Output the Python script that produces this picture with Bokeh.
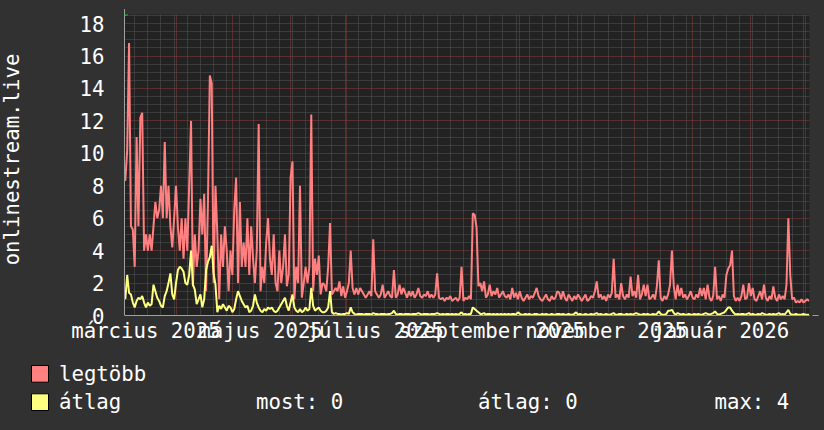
import math
import datetime as dt
from bokeh.plotting import figure
from bokeh.models import Range1d, FixedTicker, Arrow, NormalHead
from bokeh.layouts import column, row
from bokeh.embed import file_html
from bokeh.resources import INLINE
from bokeh.core.properties import value

# ---------------- data (daily values, first day = 2025-03-05) ----------------
start_date = dt.date(2025, 3, 5)

legtobb = [
    8.3, 10.2, 16.8, 5.5, 5.3, 3.0, 11.0, 5.5, 12.2, 12.5,
    4.0, 5.0, 4.0, 5.0, 4.0, 5.5, 7.0, 6.0, 6.5, 8.0,
    6.0, 10.7, 6.0, 8.0, 5.5, 4.2, 6.0, 8.0, 5.5, 4.0,
    6.0, 3.5, 6.0, 4.0, 8.0, 12.0, 1.8, 5.0, 3.0, 4.0,
    7.2, 5.0, 7.5, 1.5, 7.0, 14.8, 14.3, 2.0, 8.0, 5.0,
    1.0, 5.0, 3.0, 5.5, 4.0, 1.5, 4.0, 2.5, 6.5, 8.5,
    2.0, 7.0, 3.0, 4.5, 3.0, 6.0, 2.5, 5.5, 3.5, 2.0,
    4.0, 11.8, 1.5, 3.0, 2.0, 4.5, 6.0, 3.5, 2.5, 5.0,
    2.0, 1.5, 4.0, 2.0, 3.0, 5.0, 1.8, 2.5, 8.5, 9.5,
    1.0, 3.0, 2.0, 8.0, 1.1, 2.0, 3.0, 2.0, 3.0, 12.4,
    1.5, 3.5, 2.5, 3.7, 1.3, 2.0, 1.9, 1.5, 3.0, 5.7,
    1.3, 1.5, 1.7, 1.5, 2.1, 1.2, 1.8, 1.1, 1.5, 2.0,
    4.0, 1.7, 1.3, 1.7, 1.3, 1.7, 1.5, 1.3, 1.1, 1.3,
    1.5, 1.2, 4.7, 1.5, 1.3, 1.1, 1.3, 1.9, 1.1, 1.3,
    1.5, 1.2, 1.1, 2.8, 1.1, 1.3, 1.9, 1.3, 1.7, 1.4,
    1.1, 1.5, 1.2, 1.5, 1.1, 1.3, 1.7, 1.2, 1.1, 1.3,
    1.2, 1.5, 1.1, 1.3, 1.1, 1.3, 2.6, 1.1, 1.0, 1.1,
    0.9, 1.1, 1.0, 1.2, 0.9, 1.0, 1.1, 0.9, 1.1, 3.0,
    0.9, 1.1, 1.0, 1.2, 1.0, 6.3, 6.2, 5.4, 1.8, 2.0,
    1.5, 2.1, 1.1, 1.3, 1.9, 1.2, 1.5, 1.3, 1.7, 1.1,
    1.3, 1.5, 1.2, 1.1, 1.3, 1.0, 1.7, 1.1, 1.4, 1.0,
    1.5, 1.1, 0.9, 1.1, 1.3, 1.0, 1.2, 1.1, 1.4, 1.7,
    1.2, 1.0, 0.9, 1.1, 1.3, 1.0, 0.9, 1.2, 1.0, 1.1,
    1.5, 1.4, 1.0, 1.5, 1.1, 0.9, 1.3, 1.1, 0.9, 1.2,
    1.0, 1.3, 1.1, 0.9, 1.1, 1.3, 0.9, 1.0, 1.2, 1.1,
    1.5, 2.1, 1.1, 1.3, 1.0, 1.2, 0.9, 1.3, 1.1, 1.4,
    3.5, 1.1, 1.3, 1.0, 2.0, 1.2, 1.0, 1.3, 1.1, 2.4,
    1.2, 1.5, 1.1, 2.5, 1.0, 1.3, 1.9, 1.2, 1.9, 1.0,
    1.1, 1.3, 1.0, 1.8, 3.4, 1.1, 0.9, 1.2, 1.0, 1.3,
    1.9, 4.0, 1.8, 1.0, 1.9, 1.2, 1.7, 1.1, 1.3, 1.0,
    1.2, 1.5, 1.1, 1.0, 1.3, 1.1, 1.7, 1.2, 1.7, 1.0,
    1.9, 1.1, 0.9, 1.2, 3.0, 1.0, 1.2, 0.9, 1.3, 1.1,
    2.5, 2.9, 3.1, 4.0, 1.2, 0.9, 1.1, 0.9, 1.2, 1.9,
    1.0, 1.1, 2.0, 1.2, 1.7, 1.0, 0.9, 1.2, 1.5, 1.0,
    1.9, 1.1, 0.9, 1.2, 1.0, 1.8, 1.1, 0.9, 1.3, 1.0,
    1.2, 1.0, 1.9, 6.0, 2.5, 1.0, 1.1, 0.8, 0.9, 0.8,
    1.0, 0.8, 0.9, 1.0, 0.9,
]

atlag = [
    1.0, 2.5, 1.4, 1.3, 0.8, 0.5, 0.9, 1.1, 1.0, 1.2,
    0.8, 0.5, 0.8, 0.6, 0.7, 1.9, 1.5, 1.1, 0.9, 0.6,
    0.5, 1.2, 1.5, 2.0, 2.6, 1.3, 1.0, 2.0, 2.8, 3.0,
    2.9, 2.7, 2.0, 1.9, 2.5, 4.0, 1.9, 1.6, 0.7, 1.0,
    1.3, 0.5, 1.0, 2.8, 3.3, 3.6, 4.3, 2.6, 1.9, 0.2,
    0.6, 0.4, 0.7, 0.5, 0.3, 0.6, 0.5, 0.2, 0.4, 1.0,
    1.5, 1.2, 0.9, 0.7, 0.5, 0.6, 0.2, 0.3, 0.6, 1.3,
    0.8, 0.5, 0.3, 0.2, 0.4, 0.3, 0.5, 0.4, 0.5, 0.3,
    0.2, 0.3, 0.5, 0.7, 0.9, 1.1, 0.6, 0.3, 0.8, 1.3,
    0.5, 0.3, 0.2, 0.4, 0.2, 0.3, 0.5, 0.3, 0.4, 1.7,
    0.6, 0.3, 0.4, 0.5, 0.3, 0.2, 0.2, 0.3, 0.5, 1.5,
    0.2, 0.1, 0.15, 0.1, 0.1, 0.05, 0.1, 0.1, 0.15, 0.1,
    0.5, 0.2, 0.1, 0.05, 0.1, 0.1, 0.1, 0.05, 0.1, 0.1,
    0.1, 0.05, 0.15, 0.1, 0.1, 0.05, 0.1, 0.1, 0.1, 0.05,
    0.1, 0.1, 0.15, 0.3, 0.1, 0.05, 0.1, 0.1, 0.05, 0.1,
    0.1, 0.1, 0.05, 0.1, 0.1, 0.1, 0.15, 0.1, 0.05, 0.1,
    0.1, 0.1, 0.05, 0.1, 0.1, 0.1, 0.15, 0.1, 0.05, 0.1,
    0.05, 0.1, 0.1, 0.05, 0.1, 0.05, 0.1, 0.05, 0.1, 0.2,
    0.05, 0.1, 0.05, 0.1, 0.1, 0.5, 0.4, 0.3, 0.2, 0.1,
    0.1, 0.15, 0.05, 0.1, 0.1, 0.05, 0.1, 0.05, 0.1, 0.05,
    0.1, 0.05, 0.1, 0.05, 0.1, 0.05, 0.1, 0.1, 0.05, 0.2,
    0.1, 0.05, 0.05, 0.1, 0.05, 0.1, 0.05, 0.05, 0.1, 0.1,
    0.05, 0.05, 0.1, 0.05, 0.1, 0.05, 0.05, 0.1, 0.05, 0.05,
    0.1, 0.1, 0.05, 0.1, 0.05, 0.05, 0.1, 0.05, 0.05, 0.1,
    0.2, 0.05, 0.1, 0.05, 0.05, 0.1, 0.05, 0.05, 0.1, 0.05,
    0.1, 0.15, 0.05, 0.1, 0.05, 0.05, 0.1, 0.05, 0.05, 0.1,
    0.15, 0.05, 0.05, 0.1, 0.1, 0.05, 0.05, 0.1, 0.05, 0.1,
    0.05, 0.1, 0.15, 0.1, 0.05, 0.05, 0.1, 0.05, 0.1, 0.05,
    0.05, 0.1, 0.05, 0.1, 0.25, 0.1, 0.05, 0.05, 0.1, 0.3,
    0.3, 0.35, 0.15, 0.05, 0.15, 0.1, 0.05, 0.1, 0.05, 0.05,
    0.1, 0.05, 0.05, 0.1, 0.05, 0.1, 0.05, 0.05, 0.1, 0.15,
    0.1, 0.05, 0.1, 0.15, 0.25, 0.1, 0.05, 0.1, 0.15, 0.2,
    0.35, 0.5, 0.5, 0.3, 0.15, 0.05, 0.1, 0.05, 0.1, 0.1,
    0.05, 0.1, 0.15, 0.05, 0.1, 0.05, 0.05, 0.1, 0.05, 0.15,
    0.1, 0.05, 0.05, 0.1, 0.05, 0.1, 0.05, 0.1, 0.15, 0.05,
    0.1, 0.05, 0.2, 0.35, 0.1, 0.05, 0.05, 0.1, 0.05, 0.05,
    0.05, 0.1, 0.05, 0.05, 0.05,
]

# x-axis labels (month, label text)
label_months = [(2025, 3), (2025, 5), (2025, 7), (2025, 9), (2025, 11), (2026, 1)]
label_texts = ["március 2025", "május 2025", "július 2025",
               "szeptember 2025", "november 2025", "január 2026"]
grid_months = [(2025, m) for m in range(4, 13)] + [(2026, 1), (2026, 2), (2026, 3)]

y_major = [0, 2, 4, 6, 8, 10, 12, 14, 16, 18]
y_title = "onlinestream.live"
legend_names = ["legtöbb", "átlag"]
stat_texts = ["most: 0", "átlag: 0", "max: 4"]

series_colors = ["#ff8080", "#ffff80"]
BACK = "#313131"
CANVAS = "#222222"
FONT = "DejaVu Sans Mono"
FS = "20.7px"
TITLE_W = 30

# ---------------- derived positions ----------------
days = list(range(len(legtobb)))
ndays = len(legtobb)


def day_of(y, m, d=1):
    return (dt.date(y, m, d) - start_date).days


month_pos = [day_of(y, m) for (y, m) in grid_months]
label_pos = [day_of(y, m) + 15 for (y, m) in label_months]
week_pos = [d for d in range(0, ndays)
            if (start_date + dt.timedelta(days=d)).weekday() == 0 and d not in month_pos]
y_minor = [k * 0.5 for k in range(0, 38) if (k * 0.5) % 2 != 0]

x0, x1 = -0.43, 364.25
y0, y1 = 0.0, 18.56

common = dict(output_backend="svg", toolbar_location=None)

# ---------------- main plot ----------------
p = figure(width=824 - TITLE_W, height=345, x_range=Range1d(x0, x1), y_range=Range1d(y0, y1),
           min_border_left=124 - TITLE_W, min_border_right=15, min_border_top=14,
           min_border_bottom=30, background_fill_color=CANVAS, border_fill_color=BACK,
           outline_line_color=None, **common)

p.xaxis.ticker = FixedTicker(ticks=label_pos, minor_ticks=[])
p.xaxis.major_label_overrides = {pos: t for pos, t in zip(label_pos, label_texts)}
p.yaxis.ticker = FixedTicker(ticks=y_major, minor_ticks=y_minor)

p.xgrid.ticker = FixedTicker(ticks=month_pos, minor_ticks=week_pos)
for g in (p.xgrid, p.ygrid):
    g.grid_line_color = "#8a3c3c"
    g.grid_line_dash = "1 1"
    g.minor_grid_line_color = "#555555"
    g.minor_grid_line_dash = "1 1"

p.axis.axis_line_color = "#a0a0a0"
p.axis.major_tick_line_color = None
p.axis.minor_tick_line_color = None
p.axis.major_tick_out = 0
p.axis.major_tick_in = 0
p.axis.major_label_text_font = FONT
p.axis.major_label_text_font_size = FS
p.axis.major_label_text_color = "white"
p.xaxis.major_label_standoff = 3
p.yaxis.major_label_standoff = 16

p.line(days, legtobb, line_color=series_colors[0], line_width=2)
p.line(days, atlag, line_color=series_colors[1], line_width=2)

green = "#00cc00"
p.add_layout(Arrow(end=NormalHead(size=6, fill_color=green, line_color=green),
                   x_start=x0, y_start=y1 - 0.2, x_end=x0, y_end=y1 + 0.33,
                   line_color="#a0a0a0", line_width=1))
p.add_layout(Arrow(end=NormalHead(size=6, fill_color=green, line_color=green),
                   x_start=x1 - 1, y_start=0, x_end=x1 + 4.8, y_end=0,
                   line_color="#a0a0a0", line_width=1))

# ---------------- y title strip (left) ----------------
pt = figure(width=TITLE_W, height=345, x_range=Range1d(0, TITLE_W), y_range=Range1d(345, 0),
            min_border=0, x_axis_location=None, y_axis_location=None,
            background_fill_color=BACK, border_fill_color=BACK, outline_line_color=None, **common)
pt.title = None
pt.grid.visible = False
pt.text(x=[11.7], y=[159], text=[y_title], angle=math.pi / 2,
        text_font=value(FONT), text_font_size=value(FS), text_color="white",
        text_baseline="middle", text_align="center")

# ---------------- legend panel ----------------
p2 = figure(width=824, height=85, x_range=Range1d(0, 824), y_range=Range1d(430, 345),
            min_border=0, x_axis_location=None, y_axis_location=None,
            background_fill_color=BACK, border_fill_color=BACK, outline_line_color=None, **common)
p2.title = None
p2.grid.visible = False
p2.quad(left=[31, 31], right=[48, 48], top=[365, 393.3], bottom=[381.7, 410],
        fill_color=series_colors, line_color="black", line_width=1)
p2.text(x=[58.5, 58.5, 255.5, 477.5, 714.0], y=[373.5, 401.5, 401.5, 401.5, 401.5],
        text=legend_names + stat_texts,
        text_font=value(FONT), text_font_size=value(FS), text_color="white",
        text_baseline="alphabetic", text_align="left")

for fig in (p, p2, pt):
    try:
        fig.frame_align = False
    except Exception:
        pass

layout = column(row(pt, p, spacing=0), p2, spacing=0)
html = file_html(layout, INLINE, title=y_title)
html = html.replace("<head>", "<head><style>html,body{margin:0;padding:0;background:%s;overflow:hidden}</style>" % BACK, 1)
open("out.html", "w").write(html)
